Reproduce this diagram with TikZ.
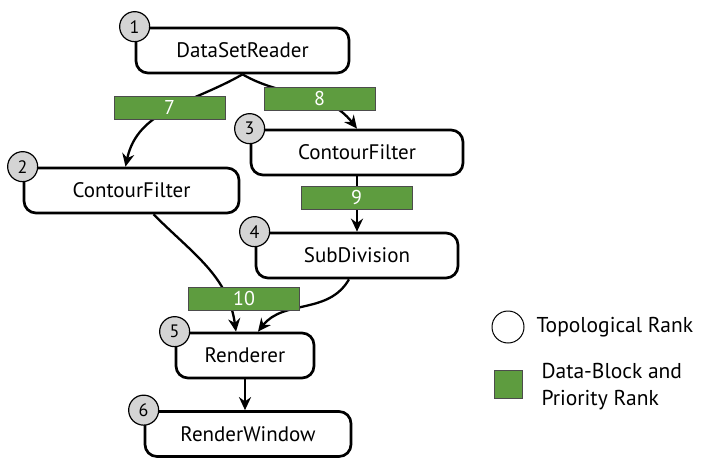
\documentclass[tikz,border=0pt]{standalone}
\usepackage{fontspec}
\setmainfont{PT Sans}
\usetikzlibrary{shapes.geometric,arrows.meta,positioning}
\definecolor{rankgray}{RGB}{212,212,212}
\definecolor{blockgreen}{RGB}{94,156,63}
\tikzstyle{filter} = [rectangle, rounded corners=12pt, minimum height=45pt, text centered, draw=black, line width=2.7pt, fill=white, font=\fontsize{21}{24}\selectfont]
\tikzstyle{rank} = [circle, minimum size=30pt, inner sep=0pt, draw=black, line width=1.2pt, fill=rankgray, font=\fontsize{18}{20}\selectfont]
\tikzstyle{block} = [rectangle, minimum width=111pt, minimum height=23pt, inner sep=0pt, draw=black!70, line width=0.8pt, fill=blockgreen, text=white, font=\fontsize{20}{22}\selectfont]
\tikzstyle{legend} = [font=\fontsize{21.5}{27}\selectfont, align=left, anchor=west]
\tikzstyle{arrow} = [line width=2.3pt, -{Stealth[length=13pt,width=12pt]}]

\begin{document}
\begin{tikzpicture}[x=1pt, y=1pt]
\useasboundingbox (0,0) rectangle (702,-458);

\node(reader) [filter, minimum width=213pt] at (242.5,-50.5) {DataSetReader};
\node(contourA) [filter, minimum width=215pt] at (131.5,-190.5) {ContourFilter};
\node(contourB) [filter, minimum width=212pt] at (357,-152.5) {ContourFilter};
\node(subdiv) [filter, minimum width=202pt] at (357,-255.5) {SubDivision};
\node(render) [filter, minimum width=138pt] at (245,-355.5) {Renderer};
\node(window) [filter, minimum width=206pt] at (248,-434) {RenderWindow};

% connectors, the data blocks sit on top of them
\draw [arrow] (reader.south) to[out=-150, in=78] ([xshift=-6pt]contourA.north);
\draw [arrow] (reader.south) to[out=-30, in=128] (contourB.north);
\draw [arrow] (contourB.south) -- (subdiv.north);
\draw [arrow] ([xshift=22pt]contourA.south) to[out=-45, in=98] ([xshift=-9pt]render.north);
\draw [arrow] ([xshift=-8pt]subdiv.south) to[out=-120, in=52] ([xshift=13pt]render.north);
\draw [arrow] (render.south) -- (render.south |- window.north);

\node(blockA) [block] at (169.5,-107.5) {7};
\node(blockB) [block] at (319.5,-98.5) {8};
\node(blockC) [block] at (356.5,-197.5) {9};
\node(blockD) [block] at (244,-298.5) {10};

\node(rankA) [rank] at (reader.north west) {1};
\node(rankB) [rank] at (contourA.north west) {2};
\node(rankC) [rank] at (contourB.north west) {3};
\node(rankD) [rank] at (subdiv.north west) {4};
\node(rankE) [rank] at (render.north west) {5};
\node(rankF) [rank] at (window.north west) {6};

% legend
\node(keyrank) [circle, minimum size=32pt, draw=black, line width=1pt] at (508,-327) {};
\node(keyranktext) [legend] at (533,-327) {Topological Rank};
\node(keyblock) [rectangle, minimum size=28pt, inner sep=0pt, draw=black!70, line width=0.8pt, fill=blockgreen] at (508.5,-384) {};
\node(keyblocktext) [legend] at (538,-387) {Data-Block and\\Priority Rank};

\end{tikzpicture}
\end{document}
